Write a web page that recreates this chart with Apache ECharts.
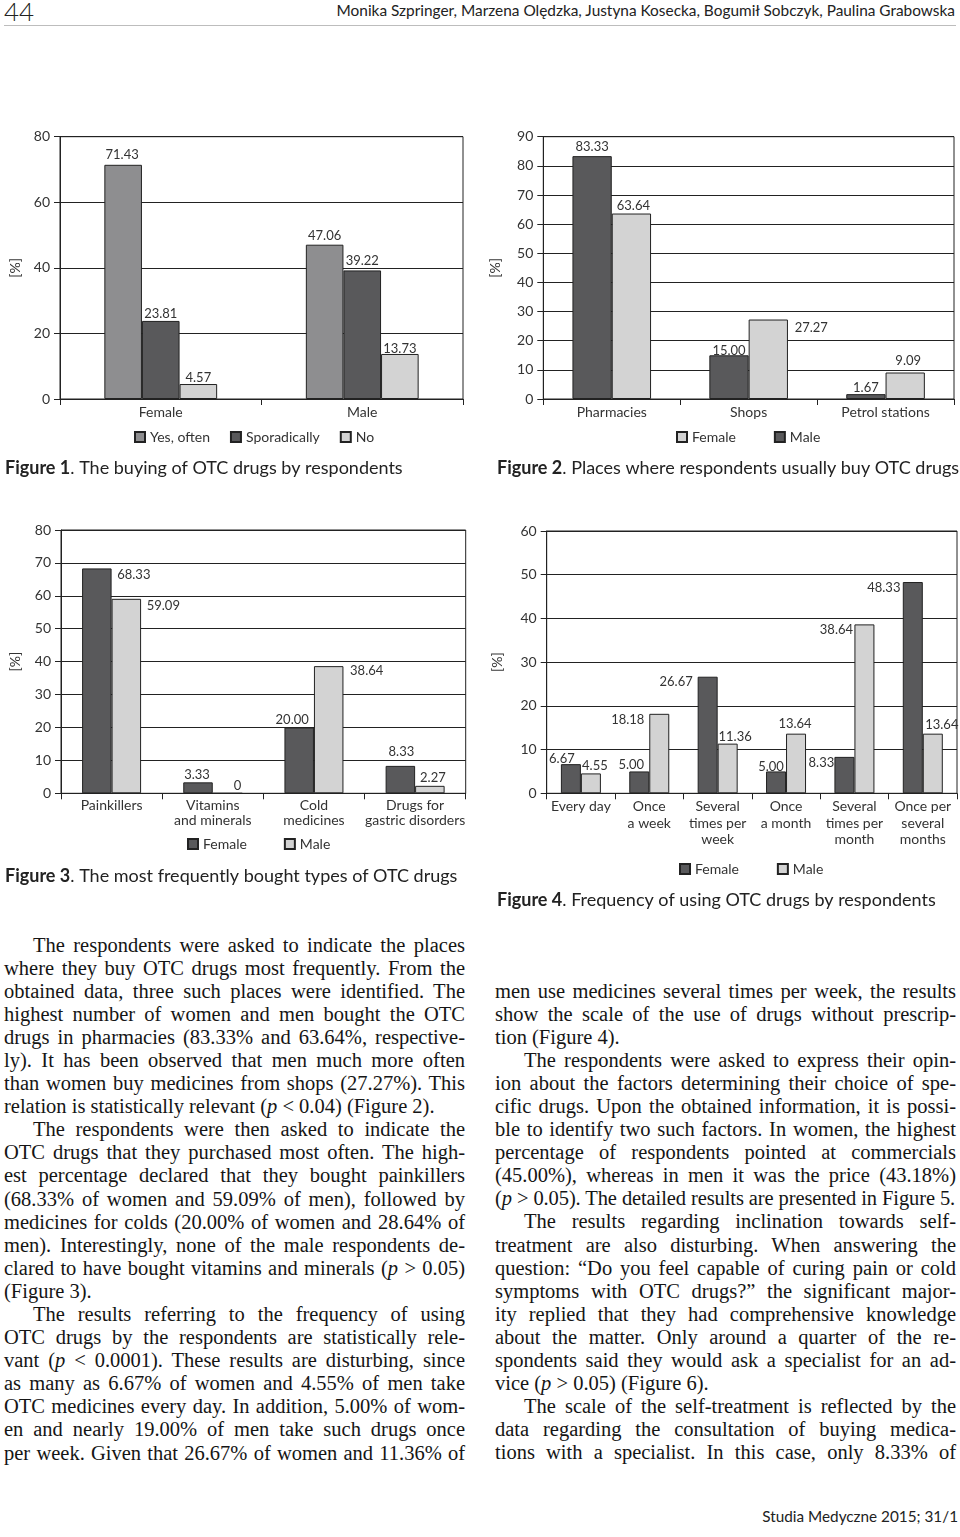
<!DOCTYPE html>
<html>
<head>
<meta charset="utf-8">
<script src="https://cdn.jsdelivr.net/npm/echarts@6/dist/echarts.min.js"></script>
<style>
html,body{margin:0;padding:0;background:#fff;}
#page{position:relative;width:960px;height:1537px;overflow:hidden;background:#fff;}
.chart{position:absolute;}
#hdrnum{position:absolute;left:4px;top:-5px;font-family:Lato,sans-serif;font-size:26px;font-weight:300;color:#222;}
#hdrauth{position:absolute;right:5px;top:1px;font-family:Lato,sans-serif;font-size:15.4px;color:#222;}
#hdrline{position:absolute;left:4px;right:4px;top:25px;height:1px;background:#bdbdbd;}
#footer{position:absolute;right:2px;top:1507px;font-family:Lato,sans-serif;font-size:15.3px;color:#222;}
.col{position:absolute;width:461px;font-family:'Liberation Serif',serif;font-size:20.5px;line-height:23.1px;color:#151515;}
.col div{white-space:nowrap;text-align:justify;text-align-last:justify;}
.col div.e{text-align:left;text-align-last:left;}
.col div.i{padding-left:29px;}
.col div.t{letter-spacing:-0.1px;}
</style>
</head>
<body>
<div id="page">
  <div id="hdrnum">44</div>
  <div id="hdrauth">Monika Szpringer, Marzena Olędzka, Justyna Kosecka, Bogumił Sobczyk, Paulina Grabowska</div>
  <div id="hdrline"></div>

  <div id="c1" class="chart" style="left:0;top:110px;width:480px;height:375px;"></div>
  <div id="c2" class="chart" style="left:480px;top:110px;width:480px;height:375px;"></div>
  <div id="c3" class="chart" style="left:0;top:500px;width:480px;height:395px;"></div>
  <div id="c4" class="chart" style="left:480px;top:500px;width:480px;height:420px;"></div>

  <div class="col" style="left:4px;top:933.5px;">
    <div class="i">The respondents were asked to indicate the places</div>
    <div>where they buy OTC drugs most frequently. From the</div>
    <div>obtained data, three such places were identified. The</div>
    <div>highest number of women and men bought the OTC</div>
    <div>drugs in pharmacies (83.33% and 63.64%, respective-</div>
    <div>ly). It has been observed that men much more often</div>
    <div>than women buy medicines from shops (27.27%). This</div>
    <div class="e">relation is statistically relevant (<i>p</i> &lt; 0.04) (Figure 2).</div>
    <div class="i">The respondents were then asked to indicate the</div>
    <div>OTC drugs that they purchased most often. The high-</div>
    <div>est percentage declared that they bought painkillers</div>
    <div>(68.33% of women and 59.09% of men), followed by</div>
    <div>medicines for colds (20.00% of women and 28.64% of</div>
    <div>men). Interestingly, none of the male respondents de-</div>
    <div>clared to have bought vitamins and minerals (<i>p</i> &gt; 0.05)</div>
    <div class="e">(Figure 3).</div>
    <div class="i">The results referring to the frequency of using</div>
    <div>OTC drugs by the respondents are statistically rele-</div>
    <div>vant (<i>p</i> &lt; 0.0001). These results are disturbing, since</div>
    <div>as many as 6.67% of women and 4.55% of men take</div>
    <div>OTC medicines every day. In addition, 5.00% of wom-</div>
    <div>en and nearly 19.00% of men take such drugs once</div>
    <div>per week. Given that 26.67% of women and 11.36% of</div>
  </div>

  <div class="col" style="left:495px;top:979.5px;">
    <div>men use medicines several times per week, the results</div>
    <div>show the scale of the use of drugs without prescrip-</div>
    <div class="e">tion (Figure 4).</div>
    <div class="i">The respondents were asked to express their opin-</div>
    <div>ion about the factors determining their choice of spe-</div>
    <div>cific drugs. Upon the obtained information, it is possi-</div>
    <div>ble to identify two such factors. In women, the highest</div>
    <div>percentage of respondents pointed at commercials</div>
    <div>(45.00%), whereas in men it was the price (43.18%)</div>
    <div class="e t">(<i>p</i> &gt; 0.05). The detailed results are presented in Figure 5.</div>
    <div class="i">The results regarding inclination towards self-</div>
    <div>treatment are also disturbing. When answering the</div>
    <div>question: “Do you feel capable of curing pain or cold</div>
    <div>symptoms with OTC drugs?” the significant major-</div>
    <div>ity replied that they had comprehensive knowledge</div>
    <div>about the matter. Only around a quarter of the re-</div>
    <div>spondents said they would ask a specialist for an ad-</div>
    <div class="e">vice (<i>p</i> &gt; 0.05) (Figure 6).</div>
    <div class="i">The scale of the self-treatment is reflected by the</div>
    <div>data regarding the consultation of buying medica-</div>
    <div>tions with a specialist. In this case, only 8.33% of</div>
  </div>

  <div id="footer">Studia Medyczne 2015; 31/1</div>
</div>

<script>
// ---------------- DATA ----------------
// Figure 1
const fig1Categories = ['Female', 'Male'];
const fig1SeriesNames = ['Yes, often', 'Sporadically', 'No'];
const fig1YesOften = [71.43, 47.06];
const fig1Sporadically = [23.81, 39.22];
const fig1No = [4.57, 13.73];
const fig1Ticks = [0, 20, 40, 60, 80];

// Figure 2 (legend as printed: Female = light, Male = dark)
const fig2Categories = ['Pharmacies', 'Shops', 'Petrol stations'];
const fig2DarkValues = [83.33, 15.00, 1.67];
const fig2LightValues = [63.64, 27.27, 9.09];
const fig2Ticks = [0, 10, 20, 30, 40, 50, 60, 70, 80, 90];

// Figure 3
const fig3Categories = ['Painkillers', 'Vitamins\nand minerals', 'Cold\nmedicines', 'Drugs for\ngastric disorders'];
const fig3Female = [68.33, 3.33, 20.00, 8.33];
const fig3Male = [59.09, 0, 38.64, 2.27];
const fig3Ticks = [0, 10, 20, 30, 40, 50, 60, 70, 80];

// Figure 4
const fig4Categories = ['Every day', 'Once\na week', 'Several\ntimes per\nweek', 'Once\na month', 'Several\ntimes per\nmonth', 'Once per\nseveral\nmonths'];
const fig4Female = [6.67, 5.00, 26.67, 5.00, 8.33, 48.33];
const fig4Male = [4.55, 18.18, 11.36, 13.64, 38.64, 13.64];
const fig4Ticks = [0, 10, 20, 30, 40, 50, 60];

// ---------------- STYLE ----------------
const FONT = 'Lato';
const TXT = '#333';
const LINE = '#222';
const MID = '#8e8e90';
const DARK = '#59595b';
const LIGHT = '#d3d3d3';

// label nudges (style only)
const fig1Off = [[[-1, -2.5], [0, -1]], [[0, 0], [0, -2]], [[0, 1], [0, 2]]];
const fig2Off = [[[0, -1.5], [0, 3], [0, 1]], [[2, 0], [43, 16], [3, -4]]];
const fig3Off = [[[37, 13.6], [-1, 0], [-7, -0.5], [1, -7]], [[37, 14], [10, 1], [38, 12], [3, -1]]];
const fig4Off = [[[-9, 2], [-8, 1], [-31.5, 13], [-5, 3], [-23, 13], [-29, 13]],
                 [[4, 0], [-31.5, 13], [7.5, 1], [-1, -2], [-28, 13], [9, -1]]];

function fmt(p) { return p.value === 0 ? '0' : p.value.toFixed(2); }

function makeData(values, offs) {
  return values.map((v, i) => ({ value: v, label: { offset: offs[i] } }));
}

function barSeries(name, values, color, width, offs) {
  return {
    type: 'bar', name: name, data: makeData(values, offs),
    barWidth: width, barGap: '0%',
    itemStyle: { color: color, borderColor: LINE, borderWidth: 1 },
    label: { show: true, position: 'top', distance: 1, formatter: fmt,
             fontFamily: FONT, fontSize: 13, color: TXT },
    emphasis: { disabled: true }, animation: false
  };
}

function base(opts) {
  return {
    animation: false,
    textStyle: { fontFamily: FONT },
    title: {
      text: '{b|Figure ' + opts.num + '}. ' + opts.title,
      left: opts.titleLeft, top: opts.titleTop, padding: 0,
      textStyle: {
        fontFamily: FONT, fontSize: 18, fontWeight: 'normal', color: '#222', lineHeight: 20,
        rich: { b: { fontFamily: FONT, fontSize: 18, fontWeight: 'bold', color: '#222', lineHeight: 20 } }
      }
    },
    legend: {
      data: opts.legendData, left: opts.legendLeft, top: opts.legendTop,
      itemWidth: 10, itemHeight: 10, itemGap: opts.legendGap, icon: 'rect', padding: 0,
      textStyle: { fontFamily: FONT, fontSize: 14, color: TXT },
      selectedMode: false
    },
    grid: { left: opts.grid[0], top: opts.grid[1], width: opts.grid[2], height: opts.grid[3],
            show: true, borderColor: LINE, borderWidth: 1, containLabel: false },
    xAxis: {
      type: 'category', data: opts.categories, boundaryGap: true,
      axisLine: { lineStyle: { color: LINE, width: 1 } },
      axisTick: { show: true, length: 6, lineStyle: { color: LINE } },
      axisLabel: { fontFamily: FONT, fontSize: 14, color: TXT, margin: 5, lineHeight: opts.lh, interval: 0 }
    },
    yAxis: {
      type: 'value', min: opts.ticks[0], max: opts.ticks[opts.ticks.length - 1],
      interval: opts.ticks[1] - opts.ticks[0],
      name: '[%]', nameLocation: 'middle', nameGap: opts.nameGap, nameRotate: 90,
      nameTextStyle: { fontFamily: FONT, fontSize: 14, color: TXT },
      axisLine: { show: true, lineStyle: { color: LINE, width: 1 } },
      axisTick: { show: true, length: 6, lineStyle: { color: LINE } },
      axisLabel: { fontFamily: FONT, fontSize: 14, color: TXT, margin: 10 },
      splitLine: { show: true, lineStyle: { color: LINE, width: 1 } }
    },
    series: opts.series
  };
}

// Figure 1
echarts.init(document.getElementById('c1'), null, { renderer: 'canvas' }).setOption(base({
  num: 1, title: 'The buying of OTC drugs by respondents', titleLeft: 5, titleTop: 348,
  legendData: fig1SeriesNames, legendLeft: 134, legendTop: 320, legendGap: 20,
  grid: [52, 26.7, 411, 262.3], categories: fig1Categories, ticks: fig1Ticks, nameGap: 38, lh: 16,
  series: [
    barSeries(fig1SeriesNames[0], fig1YesOften, MID, 37.6, fig1Off[0]),
    barSeries(fig1SeriesNames[1], fig1Sporadically, DARK, 37.6, fig1Off[1]),
    barSeries(fig1SeriesNames[2], fig1No, LIGHT, 37.6, fig1Off[2])
  ]
}));

// Figure 2
echarts.init(document.getElementById('c2'), null, { renderer: 'canvas' }).setOption(base({
  num: 2, title: 'Places where respondents usually buy OTC drugs', titleLeft: 17, titleTop: 348,
  legendData: ['Female', 'Male'], legendLeft: 196, legendTop: 320, legendGap: 38,
  grid: [63.3, 26.7, 410.7, 262.3], categories: fig2Categories, ticks: fig2Ticks, nameGap: 41, lh: 16,
  series: [
    barSeries('Male', fig2DarkValues, DARK, 39.3, fig2Off[0]),
    barSeries('Female', fig2LightValues, LIGHT, 39.3, fig2Off[1])
  ]
}));

// Figure 3
echarts.init(document.getElementById('c3'), null, { renderer: 'canvas' }).setOption(base({
  num: 3, title: 'The most frequently bought types of OTC drugs', titleLeft: 5, titleTop: 366,
  legendData: ['Female', 'Male'], legendLeft: 187, legendTop: 337, legendGap: 37,
  grid: [52.3, 30, 413.4, 263.3], categories: fig3Categories, ticks: fig3Ticks, nameGap: 39, lh: 15,
  series: [
    barSeries('Female', fig3Female, DARK, 29.5, fig3Off[0]),
    barSeries('Male', fig3Male, LIGHT, 29.5, fig3Off[1])
  ]
}));

// Figure 4
echarts.init(document.getElementById('c4'), null, { renderer: 'canvas' }).setOption(base({
  num: 4, title: 'Frequency of using OTC drugs by respondents', titleLeft: 17, titleTop: 390,
  legendData: ['Female', 'Male'], legendLeft: 199, legendTop: 362, legendGap: 38,
  grid: [66.7, 31, 410.3, 262.3], categories: fig4Categories, ticks: fig4Ticks, nameGap: 42, lh: 16.5,
  series: [
    barSeries('Female', fig4Female, DARK, 20, fig4Off[0]),
    barSeries('Male', fig4Male, LIGHT, 20, fig4Off[1])
  ]
}));
</script>
</body>
</html>
